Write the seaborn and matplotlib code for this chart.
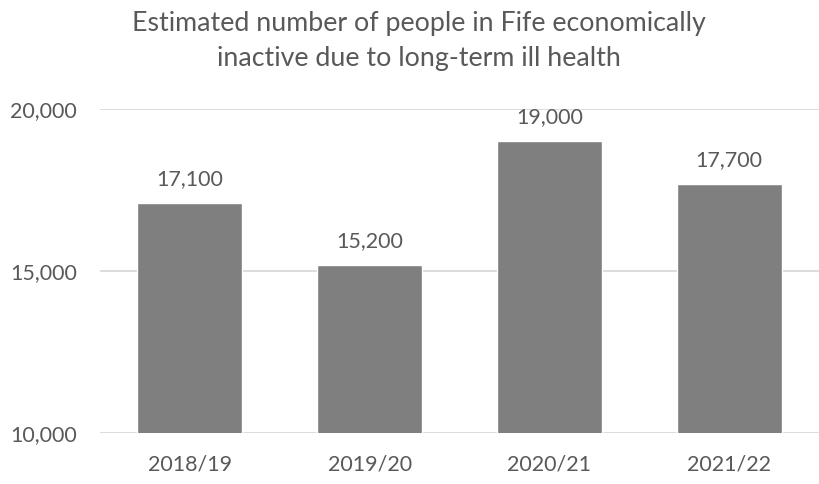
import matplotlib
matplotlib.use("Agg")
import matplotlib.pyplot as plt
import seaborn as sns
import pandas as pd
from matplotlib.ticker import FuncFormatter

years = ["2018/19", "2019/20", "2020/21", "2021/22"]
people = [17100, 15200, 19000, 17700]
y_ticks = [10000, 15000, 20000]

sns.set_theme(style="white")
plt.rcParams["font.family"] = ["Lato", "DejaVu Sans"]

text_color = "#595959"
df = pd.DataFrame({"year": years, "people": people})

fig = plt.figure(figsize=(8.19, 4.84), dpi=100)
ax = fig.add_axes([0.122, 0.1054, 0.878, 0.6694])

sns.barplot(data=df, x="year", y="people", color="#7f7f7f", saturation=1,
            width=0.583, ax=ax, zorder=3)

ax.set_xlim(-0.5, len(years) - 0.5)
ax.set_ylim(10000, 20000)
ax.set_yticks(y_ticks)
ax.yaxis.set_major_formatter(FuncFormatter(lambda v, p: f"{int(v):,}"))
ax.grid(axis="y", color="#d9d9d9", linewidth=1.3, zorder=0)
ax.set_axisbelow(True)
for s in ax.spines.values():
    s.set_visible(False)
ax.set_xlabel("")
ax.set_ylabel("")
ax.tick_params(axis="both", length=0, labelsize=15.5, colors=text_color)
ax.tick_params(axis="x", pad=15.5)
ax.tick_params(axis="y", pad=16.5)

for i, v in enumerate(people):
    ax.annotate(f"{v:,}", (i, v), xytext=(0, 10), textcoords="offset points",
                ha="center", va="bottom", fontsize=15.5, color=text_color)

fig.text(0.512, 0.978, "Estimated number of people in Fife economically\ninactive due to long-term ill health",
         ha="center", va="top", fontsize=19.3, color=text_color, linespacing=1.5)

fig.savefig("out.png", dpi=100, facecolor="white")
